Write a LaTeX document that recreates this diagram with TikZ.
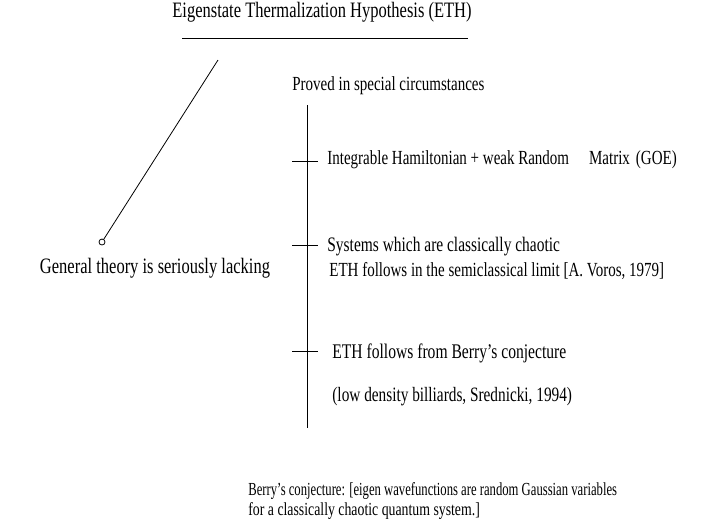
\documentclass[tikz,border=0pt]{standalone}
\usepackage{fontspec}
\usepackage{graphicx}
\setmainfont{Liberation Serif}[FakeStretch=0.75]
\newcommand{\fsz}[1]{\fontsize{#1}{#1}\selectfont}
\begin{document}
\begin{tikzpicture}[x=1pt,y=-1pt,
  line width=0.8pt,
  txt/.style={anchor=base west, inner sep=0pt, font=\fsz{20}},
  ttl/.style={anchor=base, inner sep=0pt, font=\fsz{22}},
  dot/.style={circle, draw, minimum size=6pt, inner sep=0pt},
  tick/.style={line width=0.8pt}]
\useasboundingbox (0,0) rectangle (704,531);
\node[ttl] (title) at (322,17) {Eigenstate Thermalization Hypothesis (ETH)};
\coordinate (ulA) at (182,38);
\coordinate (ulB) at (468,38);
\draw (ulA) -- (ulB);
\coordinate (dtop) at (218,60);
\node[dot] (ball) at (102,242) {};
\draw (dtop) -- (ball);
\node[txt, anchor=base, font=\fsz{22}] (general) at (155,273) {General theory is seriously lacking};
\node[txt] (proved) at (292,90) {Proved in special circumstances};
\coordinate (vtop) at (307,105);
\coordinate (vbot) at (307,428);
\draw (vtop) -- (vbot);
\coordinate (t1a) at (292,161); \coordinate (t1b) at (318,161);
\coordinate (t2a) at (292,245); \coordinate (t2b) at (318,245);
\coordinate (t3a) at (292,351); \coordinate (t3b) at (318,351);
\draw[tick] (t1a) -- (t1b);
\draw[tick] (t2a) -- (t2b);
\draw[tick] (t3a) -- (t3b);
\node[txt] (integ) at (327,164) {Integrable Hamiltonian + weak Random\hspace{20pt}Matrix\hspace{6pt}(GOE)};
\node[txt, font=\fsz{20.6}] (sys) at (327,251) {Systems which are classically chaotic};
\node[txt] (voros) at (329,276) {ETH follows in the semiclassical limit [A. Voros, 1979]};
\node[txt, font=\fsz{20.8}] (berry) at (332,358) {ETH follows from Berry’s conjecture};
\node[txt, font=\fsz{20.4}] (sred) at (332,401) {(low density billiards, Srednicki, 1994)};
\node[txt, font=\fsz{18.4}] (conjA) at (248,495) {\scalebox{0.918}[1]{Berry’s conjecture: [eigen wavefunctions are random Gaussian variables}};
\node[txt, font=\fsz{18.4}] (conjB) at (248,515) {for a classically chaotic quantum system.]};
\end{tikzpicture}
\end{document}
